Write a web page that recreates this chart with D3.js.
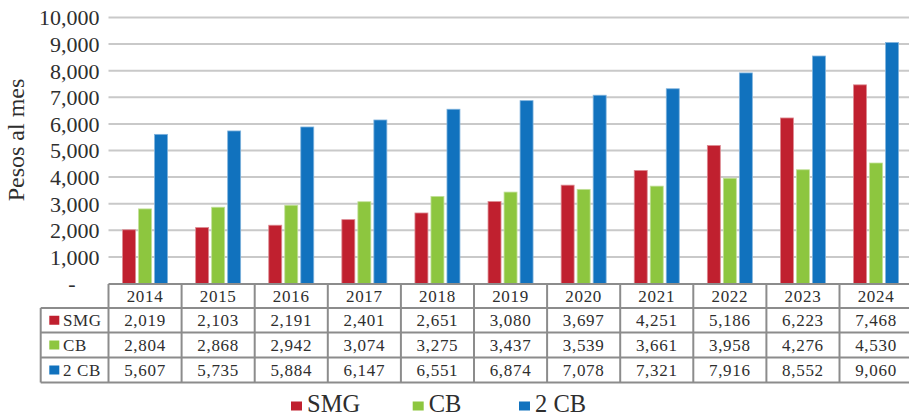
<!DOCTYPE html>
<html>
<head>
<meta charset="utf-8">
<script src="https://cdn.jsdelivr.net/npm/d3@7"></script>
<style>
  html, body { margin: 0; padding: 0; background: #fff; }
  svg { display: block; font-family: "Liberation Serif", "DejaVu Serif", serif; }
</style>
</head>
<body>
<svg id="chart" width="909" height="416"></svg>
<script>
// Monthly amounts in pesos
const years = ["2014","2015","2016","2017","2018","2019","2020","2021","2022","2023","2024"];
const seriesNames = ["SMG", "CB", "2 CB"];
const smg  = [2019, 2103, 2191, 2401, 2651, 3080, 3697, 4251, 5186, 6223, 7468];
const cb   = [2804, 2868, 2942, 3074, 3275, 3437, 3539, 3661, 3958, 4276, 4530];
const cb2  = [5607, 5735, 5884, 6147, 6551, 6874, 7078, 7321, 7916, 8552, 9060];
const yTicks = [0, 1000, 2000, 3000, 4000, 5000, 6000, 7000, 8000, 9000, 10000];

const seriesValues = [smg, cb, cb2];
const colors = ["#C0202F", "#8DC63F", "#1172BE"];
const strokes = ["#dc8a92", "#c2e09a", "#7fb3dd"];

const svg = d3.select("#chart");
const plotLeft = 108.5, plotRight = 912.6, plotTop = 17.5, plotBase = 283.5;
const tableTop = 284, rowH = [24, 24.5, 25, 25];
const textColor = "#2e2e2e", gridColor = "#c9c9c9", lineColor = "#8c8c8c";

const x = d3.scaleBand().domain(years).range([plotLeft, plotRight]).padding(0);
const xs = d3.scaleBand().domain(seriesNames).range([0, 45]).paddingInner(0.19).paddingOuter(0);
const y = d3.scaleLinear().domain([0, 10000]).range([plotBase, plotTop]);
const fmt = d3.format(",");

// horizontal gridlines
svg.append("g").selectAll("line").data(yTicks.filter(d => d > 0)).join("line")
  .attr("x1", plotLeft).attr("x2", plotRight)
  .attr("y1", d => y(d)).attr("y2", d => y(d))
  .attr("stroke", gridColor).attr("stroke-width", 2);

// y-axis labels (zero rendered as a dash)
const yAxis = d3.axisLeft(y).tickValues(yTicks).tickSize(0).tickPadding(9)
  .tickFormat(d => d === 0 ? "-" : fmt(d));
const ya = svg.append("g").attr("transform", `translate(${plotLeft},0)`).call(yAxis);
ya.select(".domain").remove();
ya.selectAll("text")
  .attr("font-family", "Liberation Serif, serif").attr("font-size", 22)
  .attr("fill", textColor).attr("dy", "0.34em")
  .attr("dx", d => d === 0 ? -24 : 0);

// y-axis title
svg.append("text")
  .attr("transform", "translate(24,140) rotate(-90)")
  .attr("text-anchor", "middle")
  .attr("font-size", 24).attr("fill", textColor)
  .text("Pesos al mes");

// bars
const groups = svg.append("g").selectAll("g").data(years).join("g")
  .attr("transform", d => `translate(${x(d) + (x.bandwidth() - 45) / 2},0)`);
groups.selectAll("rect")
  .data((yr, i) => seriesNames.map((s, k) => ({ s, k, v: seriesValues[k][i] })))
  .join("rect")
  .attr("x", d => xs(d.s))
  .attr("width", xs.bandwidth())
  .attr("y", d => y(d.v))
  .attr("height", d => plotBase - y(d.v))
  .attr("fill", d => colors[d.k])
  .attr("stroke", d => strokes[d.k]).attr("stroke-width", 0.8);

// data table
const tbl = svg.append("g");
const rowY = [tableTop];
rowH.forEach(h => rowY.push(rowY[rowY.length - 1] + h));
const labelLeft = 40.7;

// header row text
tbl.selectAll("text.yr").data(years).join("text")
  .attr("class", "yr")
  .attr("x", d => x(d) + x.bandwidth() / 2)
  .attr("y", (rowY[0] + rowY[1]) / 2)
  .attr("dy", "0.36em").attr("text-anchor", "middle")
  .attr("font-size", 17).attr("letter-spacing", 0.7).attr("fill", textColor)
  .text(d => d);

// value rows
seriesNames.forEach((name, k) => {
  const cy = (rowY[k + 1] + rowY[k + 2]) / 2;
  tbl.selectAll(`text.v${k}`).data(seriesValues[k]).join("text")
    .attr("class", `v${k}`)
    .attr("x", (d, i) => x(years[i]) + x.bandwidth() / 2)
    .attr("y", cy).attr("dy", "0.36em").attr("text-anchor", "middle")
    .attr("font-size", 17).attr("letter-spacing", 0.7).attr("fill", textColor)
    .text(d => fmt(d));
  tbl.append("rect")
    .attr("x", 49.3).attr("y", cy - 4.5).attr("width", 10).attr("height", 9)
    .attr("fill", colors[k]);
  tbl.append("text")
    .attr("x", 63).attr("y", cy).attr("dy", "0.36em")
    .attr("font-size", 17).attr("letter-spacing", 0.6).attr("fill", textColor)
    .text(name);
});

// table grid lines
const hLines = [
  [plotLeft, plotRight, rowY[0]],
  [labelLeft, plotRight, rowY[1]],
  [labelLeft, plotRight, rowY[2]],
  [labelLeft, plotRight, rowY[3]],
  [labelLeft, plotRight, rowY[4]]
];
tbl.selectAll("line.h").data(hLines).join("line")
  .attr("class", "h")
  .attr("x1", d => d[0]).attr("x2", d => d[1])
  .attr("y1", d => d[2]).attr("y2", d => d[2])
  .attr("stroke", lineColor).attr("stroke-width", 2);
const vX = years.map(d => x(d)).concat([plotRight]);
tbl.selectAll("line.v").data(vX).join("line")
  .attr("class", "v")
  .attr("x1", d => d).attr("x2", d => d)
  .attr("y1", rowY[0]).attr("y2", rowY[4])
  .attr("stroke", lineColor).attr("stroke-width", 2);
tbl.append("line")
  .attr("x1", labelLeft).attr("x2", labelLeft)
  .attr("y1", rowY[1]).attr("y2", rowY[4])
  .attr("stroke", lineColor).attr("stroke-width", 2);

// legend
const legendX = [291, 412.7, 519];
const leg = svg.append("g");
seriesNames.forEach((name, k) => {
  leg.append("rect").attr("x", legendX[k]).attr("y", 401.5)
    .attr("width", 11).attr("height", 9).attr("fill", colors[k]);
  leg.append("text").attr("x", legendX[k] + 16).attr("y", 411.5)
    .attr("font-size", 24.5).attr("fill", textColor).text(name);
});
</script>
</body>
</html>
